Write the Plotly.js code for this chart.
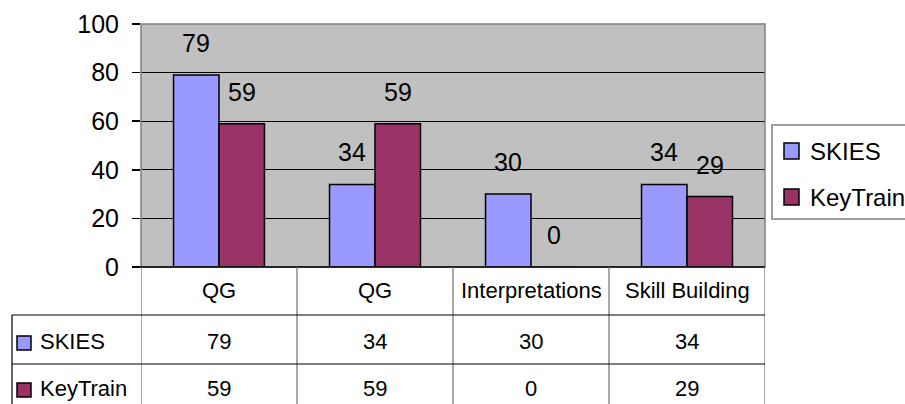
<!DOCTYPE html>
<html>
<head>
<meta charset="utf-8">
<script src="https://cdn.plot.ly/plotly-3.0.1.min.js"></script>
<style>html,body{margin:0;padding:0;background:#fff;}#chart{width:905px;height:404px;}</style>
</head>
<body>
<div id="chart"></div>
<script>
const categories = ['QG', 'QG', 'Interpretations', 'Skill Building'];
const skies = [79, 34, 30, 34];
const keytrain = [59, 59, 0, 29];
const seriesNames = ['SKIES', 'KeyTrain'];
const yTicks = [0, 20, 40, 60, 80, 100];

const colors = ['#9999FF', '#993366'];
const series = [skies, keytrain];
const FONT = 'Liberation Sans, Arial, sans-serif';

const W = 905, H = 404, L = 141, R = 765, T = 24, B = 267;
const px2x = p => (p - L) / (R - L);
const py2y = p => (B - p) / (B - T);

const xIdx = categories.map((c, i) => i);
const bargap = 0.417;
const bw = (1 - bargap) / 2;

const traces = series.map((vals, s) => ({
  type: 'bar',
  name: seriesNames[s],
  x: xIdx,
  y: vals,
  marker: {color: colors[s], line: {color: '#000', width: 1.5}},
  hoverinfo: 'none'
}));

const shapes = [];
const annotations = [];

// plot-area border
shapes.push({type: 'rect', xref: 'paper', yref: 'paper', x0: 0, x1: 1, y0: 0, y1: 1,
  line: {color: '#808080', width: 1.5}, layer: 'above'});
// zero line over border
shapes.push({type: 'line', xref: 'paper', yref: 'paper', x0: px2x(133), x1: 1, y0: 0, y1: 0,
  line: {color: '#000', width: 1.5}, layer: 'above'});

// table vertical lines
for (let k = 0; k <= categories.length; k++) {
  shapes.push({type: 'line', xref: 'x', yref: 'paper', x0: k - 0.5, x1: k - 0.5,
    y0: py2y(267), y1: py2y(H + 2), line: {color: '#707070', width: 1.2}});
}
shapes.push({type: 'line', xref: 'paper', yref: 'paper', x0: px2x(12), x1: px2x(12),
  y0: py2y(315), y1: py2y(H + 2), line: {color: '#000', width: 1.2}});
// table horizontal lines
[315, 364].forEach(p => {
  shapes.push({type: 'line', xref: 'paper', yref: 'paper', x0: px2x(12), x1: 1,
    y0: py2y(p), y1: py2y(p), line: {color: '#000', width: 1.2}});
});

// legend box (right)
shapes.push({type: 'rect', xref: 'paper', yref: 'paper', x0: px2x(772), x1: px2x(W + 5),
  y0: py2y(219), y1: py2y(125), fillcolor: '#fff', line: {color: '#808080', width: 1.5}});
const legendCenters = [151, 197];

const rowCenters = [341, 388];
seriesNames.forEach((nm, s) => {
  // right legend entry
  const lc = legendCenters[s];
  shapes.push({type: 'rect', xref: 'paper', yref: 'paper',
    x0: px2x(784), x1: px2x(799), y0: py2y(lc + 8), y1: py2y(lc - 8),
    fillcolor: colors[s], line: {color: '#000', width: 1.5}});
  annotations.push({xref: 'paper', yref: 'paper', x: px2x(808), y: py2y(lc),
    xanchor: 'left', yanchor: 'middle', text: nm, showarrow: false,
    font: {family: FONT, size: 24, color: '#000'}});
  // table legend keys and names
  const cy = rowCenters[s] + 2;
  shapes.push({type: 'rect', xref: 'paper', yref: 'paper',
    x0: px2x(17), x1: px2x(31), y0: py2y(cy - 7), y1: py2y(cy + 7),
    fillcolor: colors[s], line: {color: '#000', width: 1.5}});
  annotations.push({xref: 'paper', yref: 'paper', x: px2x(38), y: py2y(rowCenters[s]),
    xanchor: 'left', yanchor: 'middle', text: nm, showarrow: false,
    font: {family: FONT, size: 22, color: '#000'}});
  series[s].forEach((v, i) => {
    annotations.push({xref: 'x', yref: 'paper', x: i, y: py2y(rowCenters[s]),
      xanchor: 'center', yanchor: 'middle', text: String(v), showarrow: false,
      font: {family: FONT, size: 22, color: '#000'}});
    // value labels above bars
    annotations.push({xref: 'x', yref: 'y', x: i + (s === 0 ? -bw / 2 : bw / 2), y: v,
      yshift: 32, xanchor: 'center', yanchor: 'middle', text: String(v), showarrow: false,
      font: {family: FONT, size: 25, color: '#000'}});
  });
});
// category row
categories.forEach((c, i) => {
  annotations.push({xref: 'x', yref: 'paper', x: i, y: py2y(290),
    xanchor: 'center', yanchor: 'middle', text: c, showarrow: false,
    font: {family: FONT, size: 22, color: '#000'}});
});

const layout = {
  width: W, height: H,
  margin: {l: L, r: W - R, t: T, b: H - B, pad: 0, autoexpand: false},
  paper_bgcolor: '#fff',
  plot_bgcolor: '#C0C0C0',
  barmode: 'group',
  bargap: bargap,
  bargroupgap: 0,
  font: {family: FONT, color: '#000'},
  showlegend: false,
  xaxis: {
    range: [-0.5, categories.length - 0.5],
    showticklabels: false, ticks: '', showgrid: false, zeroline: false, showline: false,
    fixedrange: true
  },
  yaxis: {
    range: [0, 100], tickvals: yTicks, ticktext: yTicks.map(String),
    ticks: 'outside', ticklen: 8, tickwidth: 1.5, tickcolor: '#000',
    showgrid: true, gridcolor: '#000', gridwidth: 1.2,
    zeroline: false, showline: false,
    tickfont: {family: FONT, size: 25, color: '#000'},
    ticklabelstandoff: 8,
    fixedrange: true
  },
  shapes: shapes,
  annotations: annotations
};

Plotly.newPlot('chart', traces, layout, {displayModeBar: false, staticPlot: true});
</script>
</body>
</html>
